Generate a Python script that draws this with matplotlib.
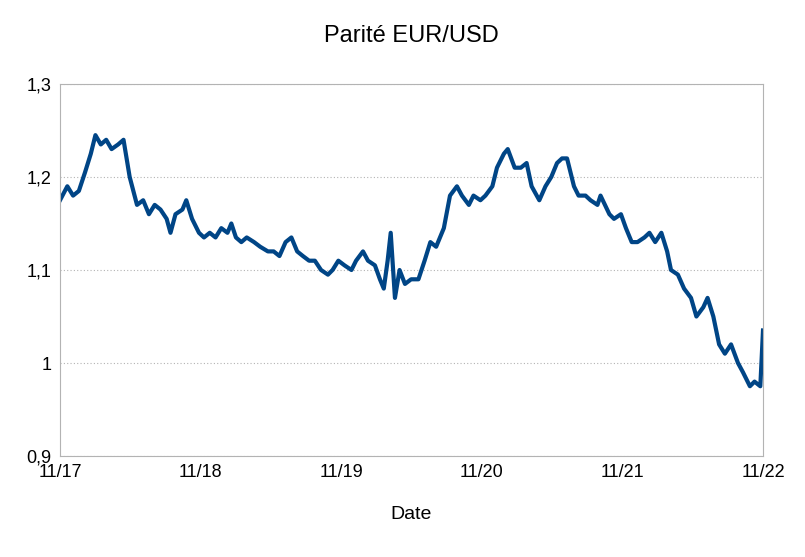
import matplotlib
matplotlib.use("Agg")
import matplotlib.pyplot as plt
import pandas as pd

dates = ["2017-11-01","2017-11-20","2017-12-05","2017-12-20","2018-01-05","2018-01-20","2018-02-01","2018-02-15",
"2018-03-01","2018-03-15","2018-04-01","2018-04-15","2018-05-01","2018-05-20","2018-06-05","2018-06-20",
"2018-07-05","2018-07-20","2018-08-05","2018-08-15","2018-08-28","2018-09-15","2018-09-25","2018-10-10","2018-10-28",
"2018-11-10","2018-11-25","2018-12-10","2018-12-25","2019-01-10","2019-01-20","2019-02-01","2019-02-15","2019-03-01",
"2019-03-20","2019-04-05","2019-04-25","2019-05-10","2019-05-25","2019-06-10","2019-06-25","2019-07-10","2019-07-25",
"2019-08-10","2019-08-25","2019-09-10","2019-09-28","2019-10-10","2019-10-25","2019-11-10","2019-11-28","2019-12-10",
"2019-12-28","2020-01-10","2020-01-28","2020-02-10","2020-02-20","2020-03-01","2020-03-09","2020-03-20","2020-04-01",
"2020-04-15","2020-05-01","2020-05-20","2020-06-05","2020-06-20","2020-07-05","2020-07-25","2020-08-10","2020-08-28",
"2020-09-10","2020-09-28","2020-10-10","2020-10-28","2020-11-10","2020-11-28","2020-12-10","2020-12-28","2021-01-07",
"2021-01-25","2021-02-10","2021-02-25","2021-03-10","2021-03-30","2021-04-15","2021-04-30","2021-05-15","2021-05-28",
"2021-06-10","2021-06-28","2021-07-10","2021-07-28","2021-08-10","2021-08-28","2021-09-05","2021-09-28","2021-10-10",
"2021-10-28","2021-11-10","2021-11-25","2021-12-10","2021-12-28","2022-01-10","2022-01-25","2022-02-10","2022-02-25",
"2022-03-07","2022-03-25","2022-04-10","2022-04-28","2022-05-12","2022-05-30","2022-06-10","2022-06-25","2022-07-10",
"2022-07-25","2022-08-10","2022-08-28","2022-09-10","2022-09-28","2022-10-10","2022-10-25","2022-11-01"]
rates = [1.175,1.19,1.18,1.185,1.205,1.225,1.245,1.235,1.24,1.23,1.235,1.24,1.20,1.17,1.175,1.16,
1.17,1.165,1.155,1.14,1.16,1.165,1.175,1.155,1.14,
1.135,1.14,1.135,1.145,1.14,1.15,1.135,1.13,1.135,
1.13,1.125,1.12,1.12,1.115,1.13,1.135,1.12,1.115,
1.11,1.11,1.10,1.095,1.10,1.11,1.105,1.10,1.11,
1.12,1.11,1.105,1.09,1.08,1.11,1.14,1.07,1.10,
1.085,1.09,1.09,1.11,1.13,1.125,1.145,1.18,1.19,
1.18,1.17,1.18,1.175,1.18,1.19,1.21,1.225,1.23,
1.21,1.21,1.215,1.19,1.175,1.19,1.20,1.215,1.22,
1.22,1.19,1.18,1.18,1.175,1.17,1.18,1.16,1.155,
1.16,1.145,1.13,1.13,1.135,1.14,1.13,1.14,1.12,
1.10,1.095,1.08,1.07,1.05,1.06,1.07,1.05,1.02,
1.01,1.02,1.00,0.99,0.975,0.98,0.975,1.035]
xticks = ["2017-11-01","2018-11-01","2019-11-01","2020-11-01","2021-11-01","2022-11-01"]
xticklabels = ["11/17","11/18","11/19","11/20","11/21","11/22"]
yticks = [0.9,1.0,1.1,1.2,1.3]
yticklabels = ["0,9","1","1,1","1,2","1,3"]

plt.rcParams['font.family'] = ['Liberation Sans', 'DejaVu Sans']
fig = plt.figure(figsize=(8.05,5.57), dpi=100)
ax = fig.add_axes([60/805, 1-456/557, 703/805, 372/557])
ax.plot(pd.to_datetime(dates), rates, color="#004586", lw=3)
ax.set_xlim(pd.Timestamp(xticks[0]), pd.Timestamp(xticks[-1]))
ax.set_ylim(0.9, 1.3)
ax.set_xticks(pd.to_datetime(xticks))
ax.set_xticklabels(xticklabels, fontsize=13)
ax.set_yticks(yticks)
ax.set_yticklabels(yticklabels, fontsize=13)
ax.yaxis.grid(True, linestyle=(0,(1,2)), color="#b3b3b3", lw=0.8)
for s in ax.spines.values():
    s.set_color("#b3b3b3")
ax.tick_params(colors="#b3b3b3", labelcolor="black", length=0, pad=6)
ax.set_xlabel("Date", fontsize=14, labelpad=18)
ax.set_title("Parité EUR/USD", fontsize=17, pad=30)
fig.savefig("out.png")
